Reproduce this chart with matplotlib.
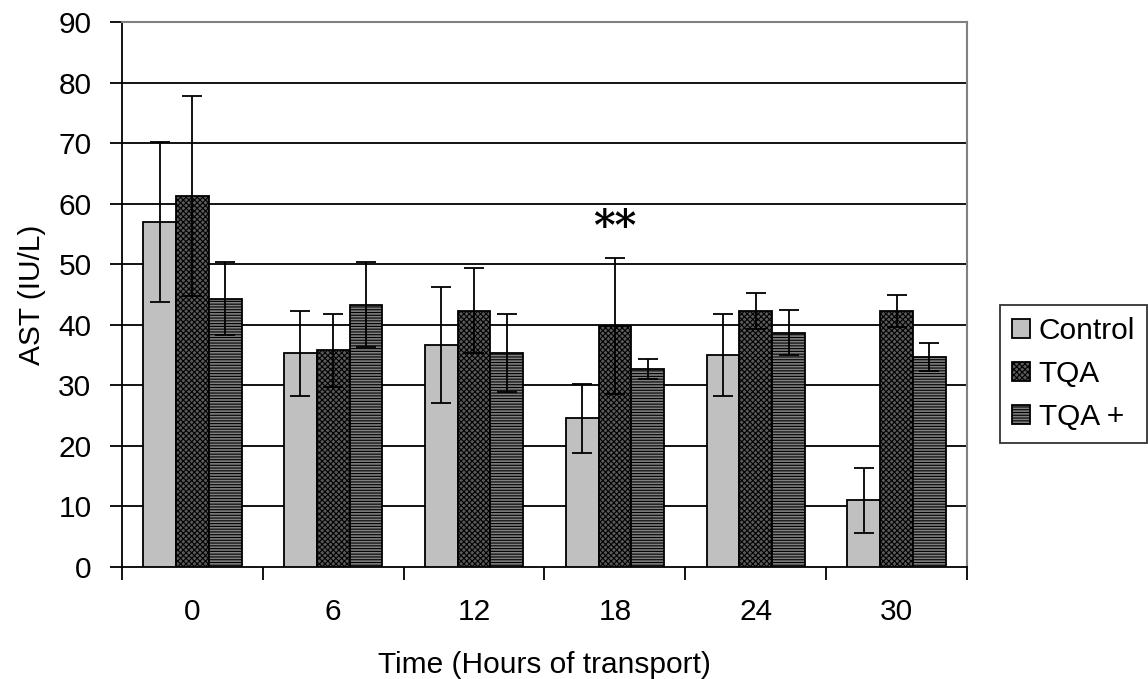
import matplotlib
matplotlib.use("Agg")
import matplotlib.pyplot as plt
import numpy as np

plt.rcParams['font.family'] = ['Liberation Sans', 'DejaVu Sans']
plt.rcParams['hatch.linewidth'] = 0.8

hours = ["0", "6", "12", "18", "24", "30"]
series = ["Control", "TQA", "TQA +"]
control = [57.0, 35.3, 36.7, 24.6, 35.0, 11.0]
tqa = [61.3, 35.8, 42.3, 39.8, 42.3, 42.3]
tqa_plus = [44.3, 43.3, 35.3, 32.7, 38.7, 34.7]
control_err = [13.2, 7.0, 9.6, 5.7, 6.7, 5.4]
tqa_err = [16.5, 6.0, 7.0, 11.2, 3.0, 2.7]
tqa_plus_err = [6.0, 7.0, 6.4, 1.6, 3.7, 2.3]

values = [control, tqa, tqa_plus]
errors = [control_err, tqa_err, tqa_plus_err]
faces = ["#c0c0c0", "#5a5a5a", "#808080"]
hatches = [None, "xxxxxx", "------"]

FS = 21.5

fig = plt.figure(figsize=(11.48, 6.79), dpi=100)
ax = fig.add_axes([122/1148, 1 - 567/679, (967 - 122)/1148, (567 - 22)/679])

x = np.arange(len(hours))
w = 0.233
for i, (vals, errs) in enumerate(zip(values, errors)):
    pos = x + (i - 1) * w
    ax.bar(pos, vals, width=w, color=faces[i], edgecolor="black",
           linewidth=1.3, hatch=hatches[i], label=series[i], zorder=3)
    ax.errorbar(pos, vals, yerr=errs, fmt="none", ecolor="black",
                elinewidth=1.3, capsize=7, capthick=1.3, zorder=4)

ax.set_xlim(-0.5, len(hours) - 0.5)
ax.set_ylim(0, 90)
ax.set_yticks(np.arange(0, 91, 10))
ax.set_xticks(x)
ax.set_xticklabels(hours)
ax.set_xticks(np.arange(-0.5, len(hours)), minor=True)
ax.tick_params(axis="x", which="major", length=0, labelsize=FS, pad=22)
ax.tick_params(axis="x", which="minor", length=9, width=1.3, direction="out")
ax.tick_params(axis="y", length=9, width=1.3, direction="out", labelsize=FS, pad=13)

for yv in range(10, 90, 10):
    ax.axhline(yv, color="black", linewidth=1.3, zorder=1)

ax.spines["left"].set_linewidth(1.3)
ax.spines["bottom"].set_linewidth(1.3)
ax.spines["top"].set_color("#808080")
ax.spines["right"].set_color("#808080")
ax.spines["top"].set_linewidth(1.5)
ax.spines["right"].set_linewidth(1.5)

ax.set_ylabel("AST (IU/L)", fontsize=FS, labelpad=9)
ax.set_xlabel("Time (Hours of transport)", fontsize=FS, labelpad=18)

ax.text(3, 56.0, "**", ha="center", va="center", fontsize=30,
        fontweight="bold", family=["DejaVu Serif"])

leg = ax.legend(loc="upper left", bbox_to_anchor=(1000/1148, 1 - 305/679),
                bbox_transform=fig.transFigure,
                fontsize=FS, frameon=True, fancybox=False, edgecolor="black",
                handlelength=0.6, handleheight=0.6, handletextpad=0.3,
                borderpad=0.4, labelspacing=0.5, borderaxespad=0)
leg.get_frame().set_linewidth(1.3)

fig.savefig("out.png", dpi=100)
